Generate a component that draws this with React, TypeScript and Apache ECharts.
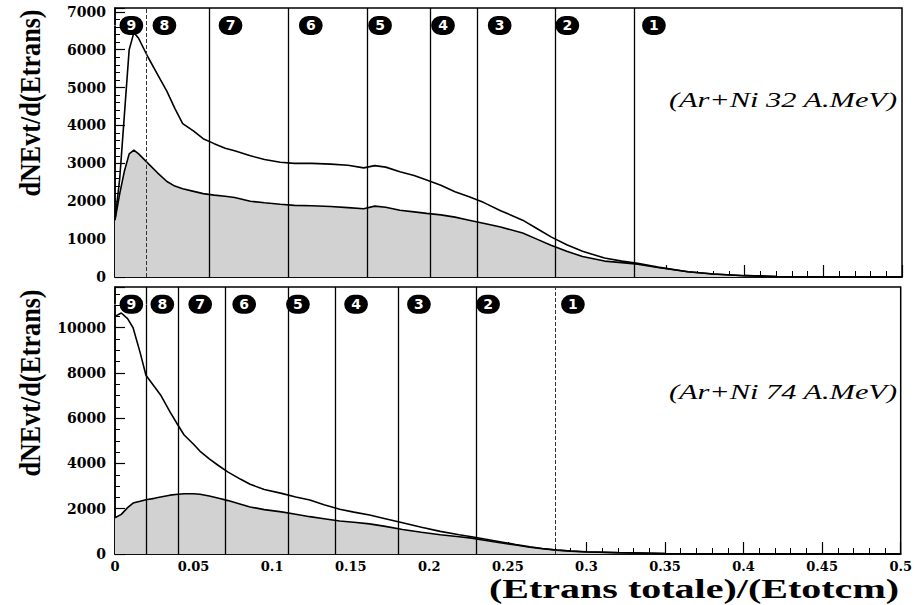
import React, { useEffect, useRef } from "react";
import * as echarts from "echarts";

// ---------- data: Ar+Ni 32 A.MeV (top panel) ----------
const xTop = [0, 0.003, 0.006, 0.009, 0.012, 0.015, 0.021, 0.027, 0.033, 0.038, 0.043, 0.05, 0.056, 0.063, 0.07, 0.076, 0.086, 0.095, 0.105, 0.114, 0.125, 0.137, 0.148, 0.158, 0.165, 0.172, 0.181, 0.19, 0.198, 0.207, 0.216, 0.225, 0.234, 0.245, 0.259, 0.268, 0.277, 0.287, 0.297, 0.311, 0.322, 0.332, 0.345, 0.364, 0.38, 0.4, 0.42, 0.45, 0.5];
const totalTop = [1500, 2600, 4300, 6000, 6450, 6300, 5800, 5350, 4900, 4450, 4050, 3850, 3650, 3520, 3400, 3330, 3200, 3100, 3030, 3000, 3000, 2980, 2950, 2880, 2940, 2900, 2780, 2680, 2560, 2420, 2250, 2120, 1970, 1750, 1500, 1280, 1060, 850, 680, 500, 420, 360, 260, 140, 80, 35, 15, 5, 0];
const selTop = [1500, 2200, 2800, 3250, 3350, 3250, 3000, 2750, 2520, 2400, 2330, 2260, 2200, 2160, 2130, 2100, 2000, 1960, 1920, 1890, 1880, 1860, 1830, 1800, 1870, 1840, 1760, 1720, 1680, 1640, 1580, 1500, 1420, 1320, 1160, 1000, 840, 680, 540, 420, 380, 340, 250, 140, 80, 35, 15, 5, 0];
const boundsTop = [0, 0.021, 0.063, 0.114, 0.158, 0.198, 0.234, 0.277, 0.332];
const yMaxTop = 7100;

// ---------- data: Ar+Ni 74 A.MeV (bottom panel) ----------
const xBot = [0, 0.004, 0.008, 0.0115, 0.016, 0.0197, 0.025, 0.029, 0.035, 0.04, 0.044, 0.05, 0.054, 0.06, 0.066, 0.072, 0.08, 0.086, 0.095, 0.106, 0.115, 0.124, 0.133, 0.143, 0.152, 0.162, 0.172, 0.183, 0.195, 0.207, 0.219, 0.227, 0.236, 0.245, 0.255, 0.264, 0.272, 0.281, 0.29, 0.3, 0.32, 0.35, 0.38, 0.4, 0.45, 0.5];
const totalBot = [10500, 10650, 10400, 10000, 8900, 7900, 7400, 7030, 6280, 5700, 5260, 4850, 4550, 4200, 3900, 3620, 3300, 3080, 2850, 2680, 2520, 2390, 2180, 1980, 1850, 1720, 1560, 1380, 1180, 1000, 850, 760, 650, 540, 420, 320, 240, 180, 130, 100, 60, 25, 10, 5, 0, 0];
const selBot = [1600, 1750, 2050, 2250, 2330, 2400, 2460, 2520, 2600, 2640, 2660, 2660, 2640, 2560, 2460, 2360, 2200, 2080, 1960, 1860, 1760, 1650, 1560, 1460, 1400, 1330, 1220, 1080, 960, 850, 760, 700, 600, 500, 400, 300, 230, 170, 125, 90, 55, 22, 10, 5, 0, 0];
const boundsBot = [0, 0.0197, 0.0438, 0.0718, 0.106, 0.143, 0.183, 0.227, 0.281];
const yMaxBot = 11800;

const regionLabels = ["9", "8", "7", "6", "5", "4", "3", "2", "1"];
const panelTitles = ["(Ar+Ni 32 A.MeV)", "(Ar+Ni 74 A.MeV)"];
const yTitle = "dNEvt/d(Etrans)";
const xTitle = "(Etrans totale)/(Etotcm)";

const pairs = (xs: number[], ys: number[]) => xs.map((x, i) => [x, ys[i]]);

export default function App() {
  const ref = useRef<HTMLDivElement>(null);
  useEffect(() => {
    if (!ref.current) return;
    const chart = echarts.init(ref.current, null, { renderer: "svg" });
    const black = "#000";
    const lblFont = { color: black, fontFamily: "DejaVu Serif", fontWeight: "bold" as const, fontSize: 14 };
    const mkX = (gi: number, showLabels: boolean) => ({
      type: "value", gridIndex: gi, min: 0, max: 0.5, interval: 0.05,
      axisLine: { show: true, onZero: false, lineStyle: { color: black, width: 1.5 } },
      axisTick: { show: true, inside: true, length: 12, lineStyle: { color: black, width: 1.2 } },
      minorTick: { show: true, splitNumber: 5, length: 6, lineStyle: { color: black, width: 1 } },
      splitLine: { show: false },
      axisLabel: { show: showLabels, ...lblFont, fontSize: 13, margin: 6, formatter: (v: number) => String(+v.toFixed(2)) },
    });
    const mkY = (gi: number, max: number, interval: number, minorSplit: number) => ({
      type: "value", gridIndex: gi, min: 0, max, interval,
      axisLine: { show: true, lineStyle: { color: black, width: 1.5 } },
      axisTick: { show: true, inside: true, length: 10, lineStyle: { color: black, width: 1.2 } },
      minorTick: { show: true, splitNumber: minorSplit, length: 5, lineStyle: { color: black, width: 1 } },
      splitLine: { show: false },
      axisLabel: { ...lblFont, margin: 9, showMaxLabel: false, formatter: (v: number) => String(v) },
    });
    const dashedIdxTop = [1];
    const dashedIdxBot = [8];
    const mkPanel = (gi: number, xs: number[], tot: number[], sel: number[], bounds: number[], yMax: number, dashed: number[]) => [
      {
        type: "line", xAxisIndex: gi, yAxisIndex: gi, data: pairs(xs, sel), symbol: "none",
        lineStyle: { color: black, width: 1.6 }, areaStyle: { color: "#d2d2d2", opacity: 1 }, z: 2,
      },
      {
        type: "line", xAxisIndex: gi, yAxisIndex: gi, data: pairs(xs, tot), symbol: "none",
        lineStyle: { color: black, width: 1.6 }, z: 3,
        markLine: {
          silent: true, symbol: ["none", "none"], label: { show: false },
          lineStyle: { color: black, width: 1.3, type: "solid" },
          data: bounds.map((b, i) => ({ b, i })).filter((o) => o.i > 0).map((o) => ({
            xAxis: o.b,
            lineStyle: dashed.includes(o.i) ? { color: "#333", width: 1, type: [4, 2] } : { color: black, width: 1.3, type: "solid" },
          })),
        },
      },
      {
        type: "scatter", xAxisIndex: gi, yAxisIndex: gi, symbol: "circle", symbolSize: 1,
        itemStyle: { color: "#fff", opacity: 1 },
        data: bounds.map((b) => [b, yMax * 0.935]), z: 5,
        label: {
          show: true, position: "right", distance: 5, color: "#fff", opacity: 1, fontFamily: "DejaVu Sans", fontWeight: "bold", fontSize: 14,
          backgroundColor: "#000000", borderColor: "#000000", borderWidth: 1, borderRadius: 9, padding: [2, 6, 1, 6],
          formatter: (p: any) => regionLabels[p.dataIndex],
        },
      },
    ];
    const tStyle = (text: string, size: number, weight: string, style: string, fam: string, align: string) => ({
      text, fontSize: size, fontWeight: weight, fontStyle: style, fontFamily: fam, fill: black,
      align, verticalAlign: "middle", textAlign: align, textVerticalAlign: "middle",
    });
    chart.setOption({
      animation: false,
      backgroundColor: "#fff",
      grid: [
        { left: 115, top: 8, width: 787, height: 269, show: true, borderColor: black, borderWidth: 1.5, backgroundColor: "transparent" },
        { left: 115, top: 287, width: 787, height: 267, show: true, borderColor: black, borderWidth: 1.5, backgroundColor: "transparent" },
      ],
      xAxis: [mkX(0, false), mkX(1, true)],
      yAxis: [mkY(0, yMaxTop, 1000, 5), mkY(1, yMaxBot, 2000, 4)],
      series: [
        ...mkPanel(0, xTop, totalTop, selTop, boundsTop, yMaxTop, dashedIdxTop),
        ...mkPanel(1, xBot, totalBot, selBot, boundsBot, yMaxBot, dashedIdxBot),
      ],
      graphic: [
        { type: "text", x: 30, y: 103, rotation: Math.PI / 2, scaleX: 0.87, style: tStyle(yTitle, 30, "bold", "normal", "Liberation Serif", "center") },
        { type: "text", x: 30, y: 383, rotation: Math.PI / 2, scaleX: 0.87, style: tStyle(yTitle, 30, "bold", "normal", "Liberation Serif", "center") },
        { type: "text", x: 694, y: 588, scaleX: 1.43, style: tStyle(xTitle, 28, "bold", "normal", "Liberation Serif", "center") },
        { type: "text", x: 897, y: 100, scaleX: 1.38, style: tStyle(panelTitles[0], 22, "normal", "italic", "Liberation Serif", "right") },
        { type: "text", x: 897, y: 392, scaleX: 1.38, style: tStyle(panelTitles[1], 22, "normal", "italic", "Liberation Serif", "right") },
      ],
    });
    return () => chart.dispose();
  }, []);
  return <div ref={ref} style={{ position: "fixed", left: 0, top: 0, width: 915, height: 605, background: "#fff" }} />;
}
